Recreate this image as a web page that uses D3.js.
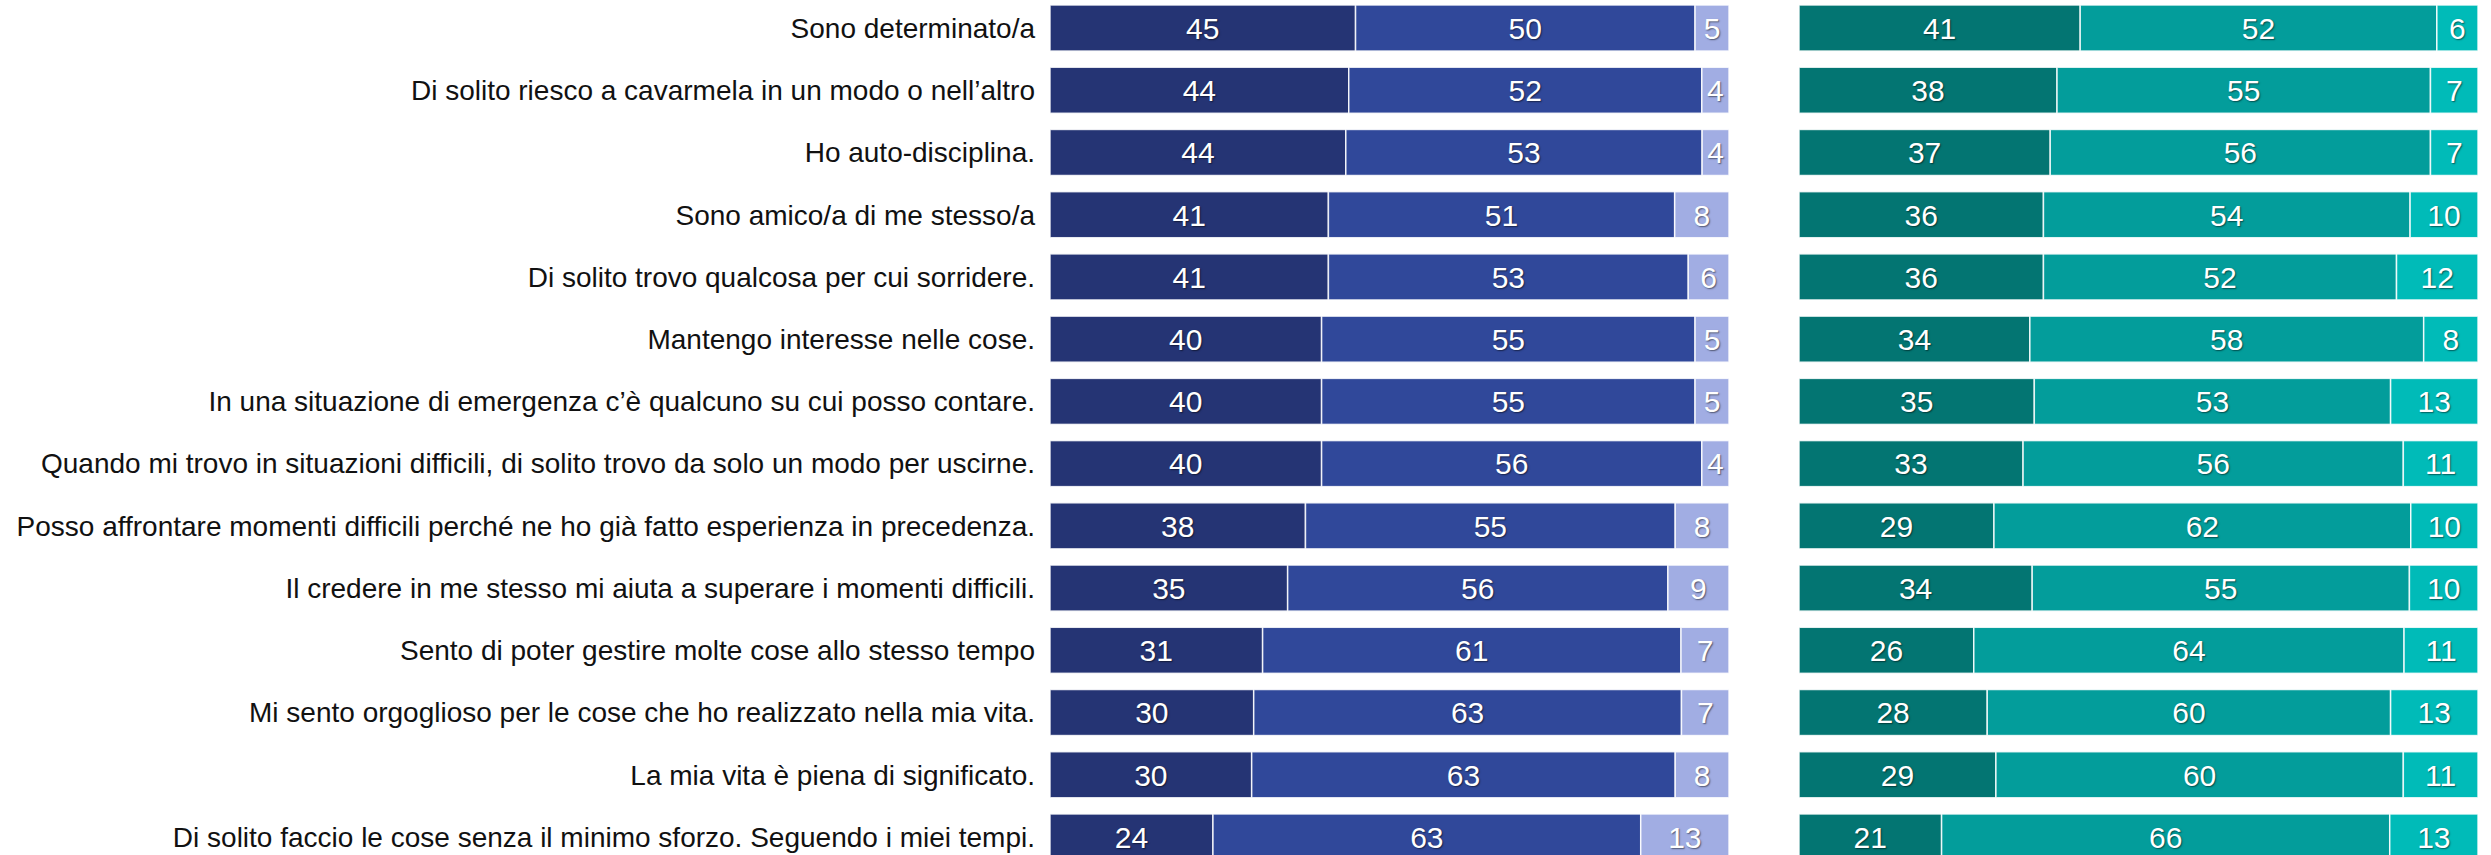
<!DOCTYPE html>
<html>
<head>
<meta charset="utf-8">
<script src="https://cdn.jsdelivr.net/npm/d3@7/dist/d3.min.js"></script>
<style>
  html, body { margin: 0; padding: 0; background: #fff; }
  svg { display: block; }
  .val { fill: #fff; text-shadow: 1px 1px 1.5px rgba(0,0,0,0.5); }
</style>
</head>
<body>
<svg id="chart" width="2491" height="855"></svg>
<script>
// Statements (rows, top to bottom)
const statements = [
  "Sono determinato/a",
  "Di solito riesco a cavarmela in un modo o nell’altro",
  "Ho auto-disciplina.",
  "Sono amico/a di me stesso/a",
  "Di solito trovo qualcosa per cui sorridere.",
  "Mantengo interesse nelle cose.",
  "In una situazione di emergenza c’è qualcuno su cui posso contare.",
  "Quando mi trovo in situazioni difficili, di solito trovo da solo un modo per uscirne.",
  "Posso affrontare momenti difficili perché ne ho già fatto esperienza in precedenza.",
  "Il credere in me stesso mi aiuta a superare i momenti difficili.",
  "Sento di poter gestire molte cose allo stesso tempo",
  "Mi sento orgoglioso per le cose che ho realizzato nella mia vita.",
  "La mia vita è piena di significato.",
  "Di solito faccio le cose senza il minimo sforzo. Seguendo i miei tempi."
];

// Left group: three answer shares (%)
const leftFirst  = [45, 44, 44, 41, 41, 40, 40, 40, 38, 35, 31, 30, 30, 24];
const leftSecond = [50, 52, 53, 51, 53, 55, 55, 56, 55, 56, 61, 63, 63, 63];
const leftThird  = [5, 4, 4, 8, 6, 5, 5, 4, 8, 9, 7, 7, 8, 13];

// Right group: three answer shares (%)
const rightFirst  = [41, 38, 37, 36, 36, 34, 35, 33, 29, 34, 26, 28, 29, 21];
const rightSecond = [52, 55, 56, 54, 52, 58, 53, 56, 62, 55, 64, 60, 60, 66];
const rightThird  = [6, 7, 7, 10, 12, 8, 13, 11, 10, 10, 11, 13, 11, 13];

const leftColors  = ["#253474", "#30489a", "#a1ade3"];
const rightColors = ["#037572", "#039d9b", "#00bbb8"];

const svg = d3.select("#chart");
const fontFamily = "'Liberation Sans', Arial, sans-serif";

const y = d3.scaleBand()
  .domain(statements)
  .range([-3.1, 868.1])
  .paddingInner(0.26)
  .paddingOuter(0.13);

const keys = ["a", "b", "c"];

function buildRows(a, b, c) {
  return statements.map((s, i) => ({ label: s, a: a[i], b: b[i], c: c[i] }));
}

function drawPanel(rows, x0, x1, colors) {
  const x = d3.scaleLinear().domain([0, 1]).range([x0, x1]);
  const series = d3.stack().keys(keys).offset(d3.stackOffsetExpand)(rows);
  const g = svg.append("g");
  series.forEach((ser, si) => {
    const sg = g.append("g");
    sg.selectAll("rect")
      .data(ser)
      .join("rect")
      .attr("x", d => x(d[0]))
      .attr("y", d => y(d.data.label))
      .attr("width", d => x(d[1]) - x(d[0]))
      .attr("height", y.bandwidth())
      .attr("fill", colors[si])
      .attr("stroke", "#ffffff")
      .attr("stroke-opacity", 0.85)
      .attr("stroke-width", 1.5);
    sg.selectAll("text")
      .data(ser)
      .join("text")
      .attr("class", "val")
      .attr("x", d => (x(d[0]) + x(d[1])) / 2)
      .attr("y", d => y(d.data.label) + y.bandwidth() / 2)
      .attr("dy", "0.36em")
      .attr("text-anchor", "middle")
      .attr("font-family", fontFamily)
      .attr("font-size", 30)
      .text(d => d.data[ser.key]);
  });
}

// Row labels
svg.append("g")
  .selectAll("text")
  .data(statements)
  .join("text")
  .attr("x", 1035)
  .attr("y", d => y(d) + y.bandwidth() / 2)
  .attr("dy", "0.35em")
  .attr("text-anchor", "end")
  .attr("font-family", fontFamily)
  .attr("font-size", 28)
  .attr("fill", "#111")
  .text(d => d);

drawPanel(buildRows(leftFirst, leftSecond, leftThird), 1050, 1729, leftColors);
drawPanel(buildRows(rightFirst, rightSecond, rightThird), 1799, 2478, rightColors);
</script>
</body>
</html>
